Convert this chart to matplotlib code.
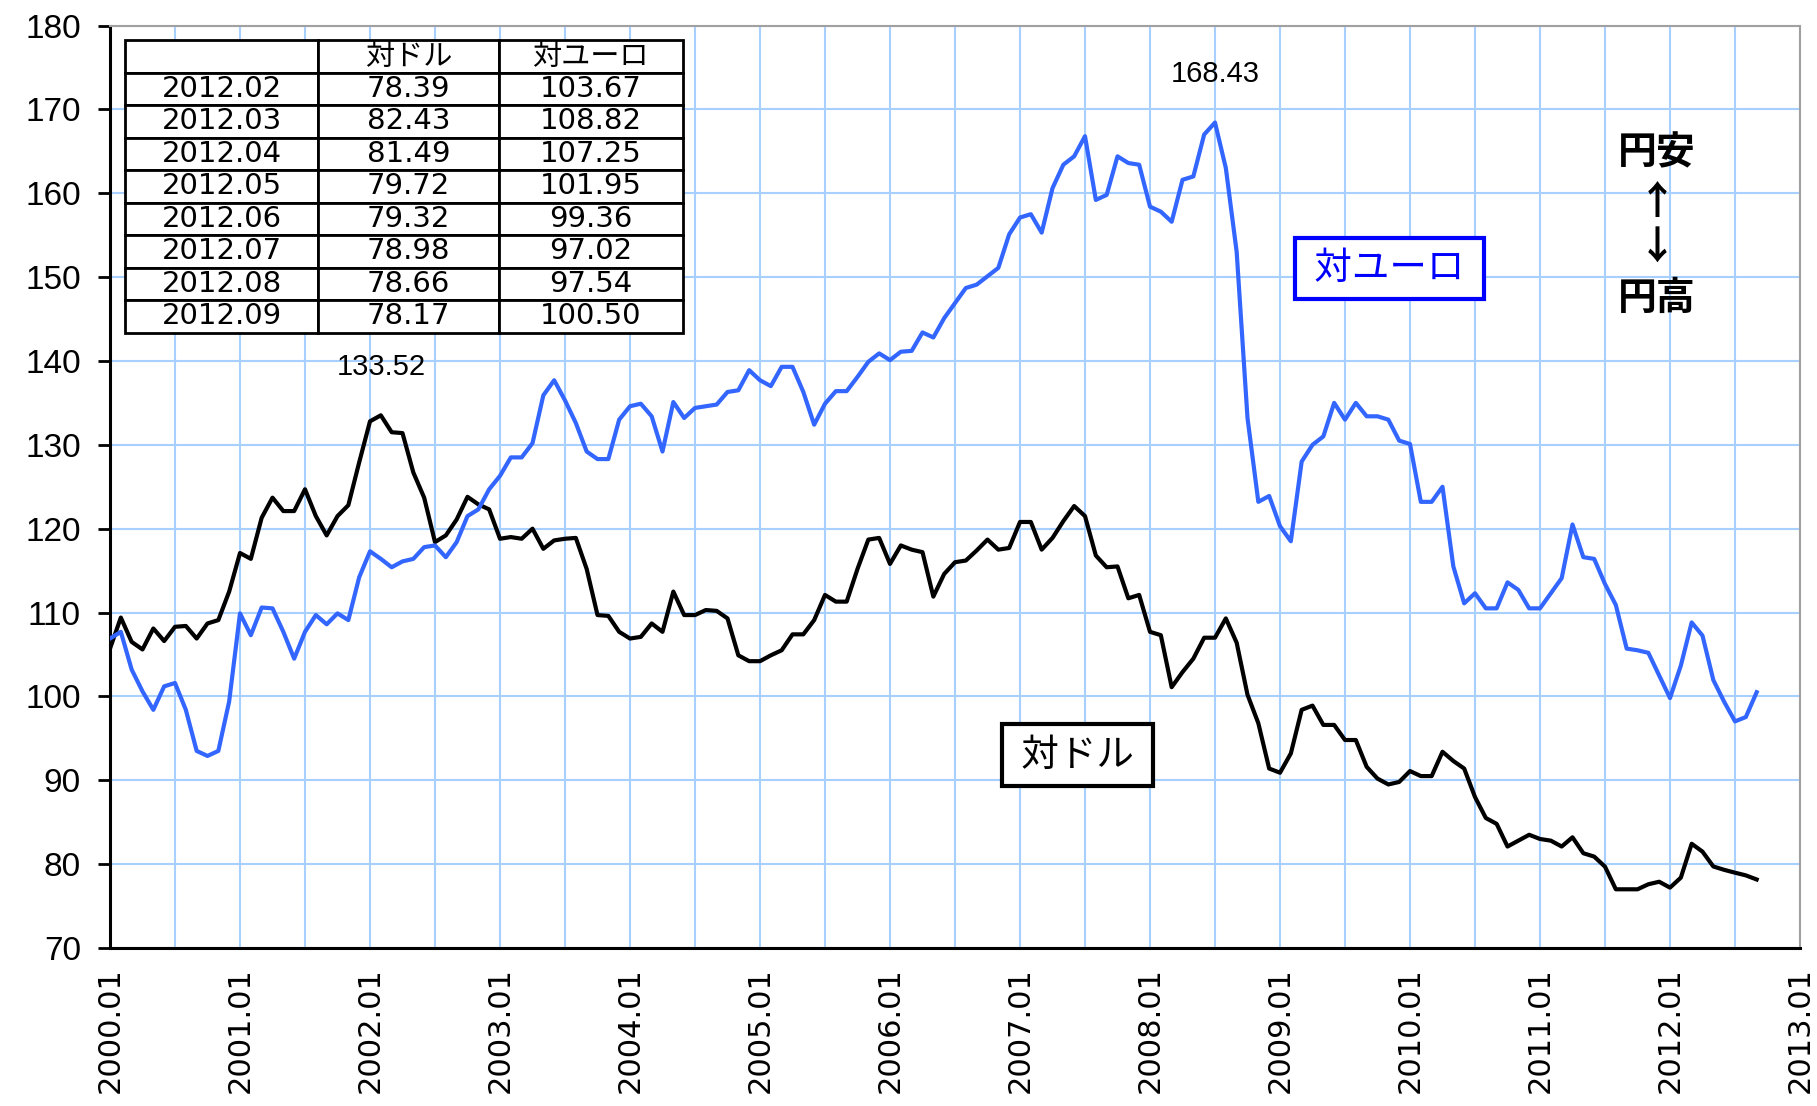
import matplotlib
matplotlib.use("Agg")
import matplotlib.pyplot as plt
import numpy as np
import pandas as pd

plt.rcParams["font.family"] = ["DejaVu Sans", "Noto Sans CJK JP"]

# monthly averages, 2000.01 - 2012.09 (yen per dollar / per euro)
usd = [
    105.7, 109.4, 106.5, 105.6, 108.1, 106.6, 108.3, 108.4, 106.9, 108.7, 109.1, 112.5,
    117.1, 116.4, 121.3, 123.7, 122.1, 122.1, 124.7, 121.5, 119.2, 121.5, 122.8, 127.9,
    132.8, 133.52, 131.5, 131.4, 126.7, 123.7, 118.4, 119.2, 121.1, 123.8, 122.9, 122.3,
    118.8, 119.0, 118.8, 120.0, 117.6, 118.6, 118.8, 118.9, 115.2, 109.7, 109.6, 107.7,
    106.9, 107.1, 108.7, 107.7, 112.5, 109.7, 109.7, 110.3, 110.2, 109.3, 104.9, 104.2,
    104.2, 104.9, 105.5, 107.4, 107.4, 109.1, 112.1, 111.3, 111.3, 115.2, 118.7, 118.9,
    115.8, 118.0, 117.5, 117.2, 111.9, 114.6, 116.0, 116.2, 117.4, 118.7, 117.5, 117.7,
    120.8, 120.8, 117.5, 118.9, 120.9, 122.7, 121.5, 116.8, 115.4, 115.5, 111.7, 112.1,
    107.7, 107.3, 101.1, 102.9, 104.5, 107.0, 107.0, 109.3, 106.4, 100.2, 96.8, 91.4,
    90.9, 93.2, 98.4, 98.9, 96.6, 96.6, 94.8, 94.8, 91.6, 90.2, 89.5, 89.8,
    91.1, 90.5, 90.5, 93.4, 92.3, 91.4, 88.0, 85.5, 84.8, 82.1, 82.8, 83.5,
    83.0, 82.8, 82.1, 83.2, 81.3, 80.9, 79.7, 77.0, 77.0, 77.0, 77.6, 77.9,
    77.2, 78.39, 82.43, 81.49, 79.72, 79.32, 78.98, 78.66, 78.17,
]
eur = [
    106.9, 107.7, 103.2, 100.6, 98.4, 101.2, 101.6, 98.4, 93.5, 92.9, 93.5, 99.4,
    109.9, 107.3, 110.6, 110.5, 107.7, 104.5, 107.7, 109.7, 108.6, 109.9, 109.1, 114.2,
    117.3, 116.4, 115.4, 116.1, 116.4, 117.8, 118.0, 116.6, 118.4, 121.5, 122.3, 124.7,
    126.3, 128.5, 128.5, 130.2, 135.9, 137.7, 135.3, 132.6, 129.2, 128.3, 128.3, 133.0,
    134.6, 134.9, 133.4, 129.2, 135.1, 133.2, 134.4, 134.6, 134.8, 136.3, 136.5, 138.9,
    137.7, 137.0, 139.3, 139.3, 136.3, 132.4, 134.9, 136.4, 136.4, 138.1, 139.9, 140.9,
    140.1, 141.1, 141.2, 143.4, 142.8, 145.1, 146.9, 148.7, 149.1, 150.1, 151.1, 155.1,
    157.1, 157.5, 155.3, 160.6, 163.4, 164.4, 166.8, 159.2, 159.8, 164.4, 163.6, 163.4,
    158.4, 157.8, 156.6, 161.6, 162.0, 167.0, 168.43, 163.0, 153.0, 133.2, 123.2, 123.9,
    120.3, 118.5, 128.0, 130.0, 131.0, 135.0, 133.0, 135.0, 133.4, 133.4, 133.0, 130.5,
    130.1, 123.2, 123.2, 125.0, 115.5, 111.1, 112.3, 110.5, 110.5, 113.6, 112.7, 110.5,
    110.5, 112.3, 114.1, 120.5, 116.6, 116.4, 113.4, 110.9, 105.7, 105.5, 105.2, 102.5,
    99.8, 103.67, 108.82, 107.25, 101.95, 99.36, 97.02, 97.54, 100.50,
]
year_labels = [f"{y}.01" for y in range(2000, 2014)]
months = pd.period_range("2000-01", periods=len(usd), freq="M").strftime("%Y.%m")

x = np.arange(len(usd))
grid_color = "#A8D0FF"

fig = plt.figure(figsize=(18.17, 11.06), dpi=100)
ax = fig.add_axes([110 / 1817, 1 - 948 / 1106, 1690 / 1817, 922.5 / 1106])

ax.plot(x, usd, color="black", linewidth=3, zorder=3)
ax.plot(x, eur, color="#3366FF", linewidth=3, zorder=3)

ax.set_xlim(0, 156)
ax.set_ylim(70, 180)
ax.set_yticks(np.arange(70, 181, 10))
ax.set_xticks(np.arange(0, 157, 12))
ax.set_xticks(np.arange(6, 157, 12), minor=True)
ax.set_xticklabels(year_labels, rotation=90, fontsize=22, family="DejaVu Sans")
for lab in ax.get_yticklabels():
    lab.set_fontfamily("Liberation Sans")
    lab.set_fontsize(24)
ax.tick_params(axis="y", length=9, width=2, pad=12)
ax.tick_params(axis="x", which="both", length=0, pad=14)
ax.set_axisbelow(True)
ax.grid(True, which="both", color=grid_color, linewidth=1.5)

for side in ("top", "right"):
    ax.spines[side].set_color("#A0A0A0")
    ax.spines[side].set_linewidth(1.5)
for side in ("left", "bottom"):
    ax.spines[side].set_linewidth(2.2)

# peak labels
for series in (usd, eur):
    i = int(np.argmax(series))
    ax.annotate(f"{series[i]:.2f}", (x[i], series[i]), xytext=(0, 35),
                textcoords="offset points", ha="center", va="center",
                fontsize=21, family="Liberation Sans")

cjk = ["Noto Sans CJK JP", "DejaVu Sans"]
ax.text(118.1, 151.0, " 対ユーロ ", color="#0000FF", fontsize=27, ha="center", va="center",
        family=cjk, zorder=4,
        bbox=dict(boxstyle="square,pad=0.3", fc="white", ec="#0000FF", lw=3))
ax.text(89.3, 93.0, " 対ドル ", color="black", fontsize=27, ha="center", va="center",
        family=cjk, zorder=4,
        bbox=dict(boxstyle="square,pad=0.3", fc="white", ec="black", lw=3))
for txt, yv in (("円安", 164.8), ("↑", 158.9), ("↓", 153.6), ("円高", 147.4)):
    ax.text(142.8, yv, txt, fontsize=28, fontweight="bold", ha="center", va="center",
            family=cjk, zorder=4)

# recent values table
rows = [[m, f"{u:.2f}", f"{e:.2f}"] for m, u, e in zip(months[-8:], usd[-8:], eur[-8:])]
tbl = ax.table(cellText=rows, colLabels=["", "対ドル", "対ユーロ"], cellLoc="center",
               colWidths=[0.346, 0.324, 0.330], bbox=[0.0089, 0.667, 0.330, 0.317])
tbl.auto_set_font_size(False)
tbl.set_fontsize(21)
tbl.set_zorder(5)
for cell in tbl.get_celld().values():
    cell.set_linewidth(2)
    cell.set_edgecolor("black")
    cell.set_facecolor("white")

fig.savefig("out.png", dpi=100)
